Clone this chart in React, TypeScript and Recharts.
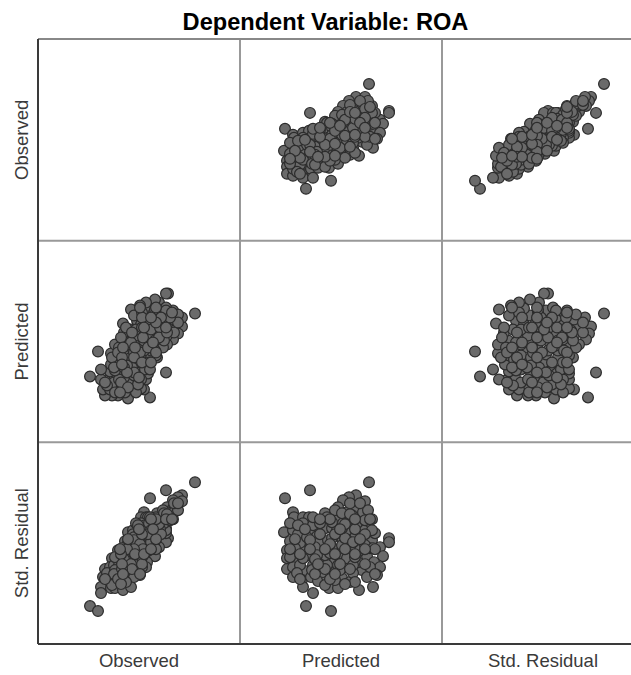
import React from "react";
import { ScatterChart, Scatter, XAxis, YAxis, ReferenceLine } from "recharts";

const variables = ["Observed", "Predicted", "Std. Residual"];
const title = "Dependent Variable: ROA";

// Readings from the picture on a per-panel scale of 0..202
const predicted = [129,70,45,116,109,103,125,98,116,107,112,53,54,63,69,85,87,132,63,97,103,112,120,128,44,53,58,70,77,85,92,101,110,122,132,149,149,50,60,71,82,93,108,116,140,47,47,57,81,95,112,127,143,134,47,65,80,93,105,122,140,53,62,71,78,102,110,137,63,89,98,119,133,73,66,91,73,80,88,65,70,53,60,73,87,100,118,130,123,115,92,102,120,85,75,87,95,113,127,107,135,125,55,67,80,95,102,123,128,50,107,97,75,98,113,130,83,57,63,115,85,132,117,92,110,120,105,70,113,77,100,90,133,102,73,58,50,125,115,72,90,105,75,115,95,85,100,110,70,60,125,135,120,105,90,80,65,55,75,90,105,125,135,50,110,95,80,115,100,125,85,78,95,60,115,130];
const residual = [162,154,146,149,147,144,143,137,136,132,129,132,127,127,127,131,127,125,121,124,121,119,124,116,112,114,110,112,108,116,116,107,109,103,104,106,102,103,101,99,94,96,97,96,97,94,86,86,84,85,87,88,88,82,75,73,76,72,77,74,77,67,64,67,63,66,62,69,57,56,56,54,57,51,38,33,119,102,104,92,89,77,79,79,79,91,82,96,114,111,106,99,94,89,71,67,64,71,67,86,111,99,96,107,121,134,131,132,134,121,114,114,97,79,79,77,72,71,86,62,59,114,121,122,141,141,106,104,102,89,74,91,96,116,127,119,87,124,87,74,100,95,85,115,110,95,80,75,95,90,110,95,105,120,125,110,115,105,70,65,60,80,70,95,130,90,125,90,115,95,75,80,70,65,125,125];
const observed = [157,128,112,144,140,135,144,129,135,129,129,106,103,108,110,119,118,135,103,120,120,123,130,128,90,95,95,101,101,110,113,111,116,117,122,130,128,87,90,93,94,100,108,110,121,80,74,79,88,94,102,110,117,109,67,74,82,86,94,99,108,65,67,72,73,85,86,102,63,73,77,85,93,63,52,60,107,99,103,86,86,72,76,81,87,100,103,116,125,119,106,106,111,93,77,80,81,93,96,100,128,116,84,96,111,125,126,136,140,98,118,113,94,92,98,104,81,69,81,88,74,128,126,117,136,140,112,96,113,89,89,96,117,117,112,100,77,132,104,77,102,105,86,122,110,96,93,94,89,83,123,118,118,121,118,104,101,90,76,80,83,104,102,82,129,97,113,106,115,113,84,84,85,67,128,134];

const series = [observed, predicted, residual];
const PANEL = 202;
const FRAME_W = 593;
const FRAME_H = 606;
const WIDTH = 631;
const HEIGHT = 675;
const FONT = "'Liberation Sans', Arial, sans-serif";

const panels: { col: number; row: number }[] = [];
for (let row = 0; row < 3; row++) {
  for (let col = 0; col < 3; col++) {
    if (row !== col) panels.push({ col, row });
  }
}

function panelData(col: number, row: number) {
  return series[col].map((v, i) => ({
    x: col * PANEL + v,
    y: (2 - row) * PANEL + series[row][i],
  }));
}

const Dot = (props: any) => (
  <circle cx={props.cx} cy={props.cy} r={5.4} fill="#6a6a6a" stroke="#2c2c2c" strokeWidth={1.2} />
);

const xTicks = [PANEL / 2, PANEL * 1.5, PANEL * 2.5];
const yTicks = [PANEL / 2, PANEL * 1.5, PANEL * 2.5];

const XTick = (props: any) => {
  const label = variables[Math.floor(props.payload.value / PANEL)];
  return (
    <text x={props.x} y={props.y + 15} textAnchor="middle" fill="#3a3a3a" fontSize={18.5} fontFamily={FONT}>{label}</text>
  );
};
const YTick = (props: any) => {
  const label = variables[2 - Math.floor(props.payload.value / PANEL)];
  return (
    <text x={0} y={0} transform={`translate(${props.x - 2},${props.y}) rotate(-90)`} textAnchor="middle" fill="#3a3a3a" fontSize={18.5} fontFamily={FONT}>{label}</text>
  );
};

export default function App() {
  return (
    <div style={{ position: "absolute", left: 0, top: 0, width: WIDTH, height: HEIGHT, overflow: "hidden", background: "#fff" }}>
      <div style={{ position: "absolute", left: 0, width: 651, top: 12, textAlign: "center", fontFamily: FONT, fontWeight: 700, fontSize: 23.6, lineHeight: "20px", color: "#000" }}>
        {title}
      </div>
      <ScatterChart width={WIDTH} height={HEIGHT} margin={{ top: 39, right: 0, bottom: 0, left: 0 }}>
        <XAxis type="number" dataKey="x" domain={[0, FRAME_W]} ticks={xTicks} tick={<XTick />} tickLine={false}
          axisLine={{ stroke: "#3a3a3a", strokeWidth: 2 }} height={31} allowDataOverflow interval={0} />
        <YAxis type="number" dataKey="y" domain={[0, FRAME_H]} ticks={yTicks} tick={<YTick />} tickLine={false}
          axisLine={{ stroke: "#3a3a3a", strokeWidth: 2 }} width={38} allowDataOverflow interval={0} />
        <ReferenceLine x={PANEL} stroke="#999" strokeWidth={2} />
        <ReferenceLine x={PANEL * 2} stroke="#999" strokeWidth={2} />
        <ReferenceLine y={PANEL} stroke="#999" strokeWidth={2} />
        <ReferenceLine y={PANEL * 2} stroke="#999" strokeWidth={2} />
        <ReferenceLine y={FRAME_H} stroke="#888" strokeWidth={2} />
        {panels.map((p) => (
          <Scatter key={`${p.col}-${p.row}`} data={panelData(p.col, p.row)} shape={<Dot />} isAnimationActive={false} />
        ))}
      </ScatterChart>
    </div>
  );
}
